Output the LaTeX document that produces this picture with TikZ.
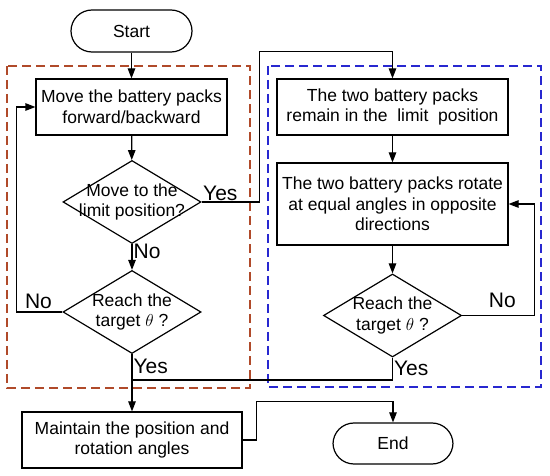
\documentclass[tikz,border=0pt]{standalone}
\usepackage{fontspec}
\setmainfont{Liberation Sans}
\usetikzlibrary{positioning, arrows.meta, shapes.geometric}

\definecolor{groupred}{RGB}{176,74,42}
\definecolor{groupblue}{RGB}{40,40,208}

\tikzset{
    startend/.style={draw, line width=1.2pt, rounded corners=21pt, minimum width=121pt, minimum height=42pt},
    process/.style={draw, line width=1.2pt, align=center, inner sep=0pt},
    decision/.style={draw, diamond, line width=1.2pt, minimum width=138pt, minimum height=83pt, inner sep=0pt},
    dtext/.style={align=center, inner sep=0pt},
    groupbox/.style={line width=1.3pt, dash pattern=on 9pt off 5pt},
    line/.style={line width=1.2pt},
    arrow/.style={line width=1.2pt, -{Triangle[length=10pt, width=7.5pt]}},
    lab/.style={font=\fontsize{21}{24}\selectfont, inner sep=1pt}
}

\begin{document}
\begin{tikzpicture}[x=1pt, y=-1pt, font=\fontsize{17.5}{20.7}\selectfont]
        \useasboundingbox (0,0) rectangle (550,476);

        % dashed groups
        \draw[groupbox, groupred] (7,66) rectangle (250,388);
        \draw[groupbox, groupblue] (268,66) rectangle (541,387);

        % left column
        \node[startend] (start) at (131.5,31) {Start};
        \node[process, minimum width=191pt, minimum height=56pt] (move) at (131.5,107) {Move the battery packs\\forward/backward};
        \node[decision, label={[dtext]center:Move to the\\limit position?}] (limit) at (132,202) {};
        \node[decision, label={[dtext]center:Reach the\\target $\theta$ ?}] (reachL) at (132,312) {};
        \node[process, minimum width=220pt, minimum height=56pt] (keep) at (132,440) {Maintain the position and\\rotation angles};

        % right column
        \node[process, minimum width=231pt, minimum height=56pt] (remain) at (392.5,107) {The two battery packs\\remain in the \ limit \ position};
        \node[process, minimum width=231pt, minimum height=82pt] (rotate) at (392.5,204) {The two battery packs rotate\\at equal angles in opposite\\directions};
        \node[decision, label={[dtext]center:Reach the\\target $\theta$ ?}] (reachR) at (392.5,315.5) {};
        \node[startend, minimum width=120pt, minimum height=41pt] (stop) at (393,443.5) {End};

        \coordinate (merge) at (132,380);

        % connectors
        \draw[arrow] (start) -- (move);
        \draw[arrow] (move) -- (limit);
        \draw[arrow] (limit) -- node[lab, right, pos=0.3]{No} (reachL);
        \draw[arrow] (limit.east) -- node[lab, above right, pos=0]{Yes} ++(58,0) |- ([yshift=27pt]remain.north) -- (remain.north);
        \draw[arrow] (reachL.west) -- node[lab, above=2pt, pos=0.52]{No} ++(-46,0) |- (move.west);
        \draw[arrow] (reachL) -- node[lab, right, pos=0.22]{Yes} (keep);
        \draw[arrow] (remain) -- (rotate);
        \draw[arrow] (rotate) -- (reachR);
        \draw[arrow] (reachR.east) -- node[lab, above=6pt, pos=0.56]{No} ++(72,0) |- (rotate.east);
        \draw[line] (reachR.south) |- node[lab, right, pos=0.25]{Yes} (merge);
        \draw[arrow] (keep.east) -- ++(14,0) |- ([yshift=21pt]stop.north) -- (stop.north);
    \end{tikzpicture}
\end{document}
